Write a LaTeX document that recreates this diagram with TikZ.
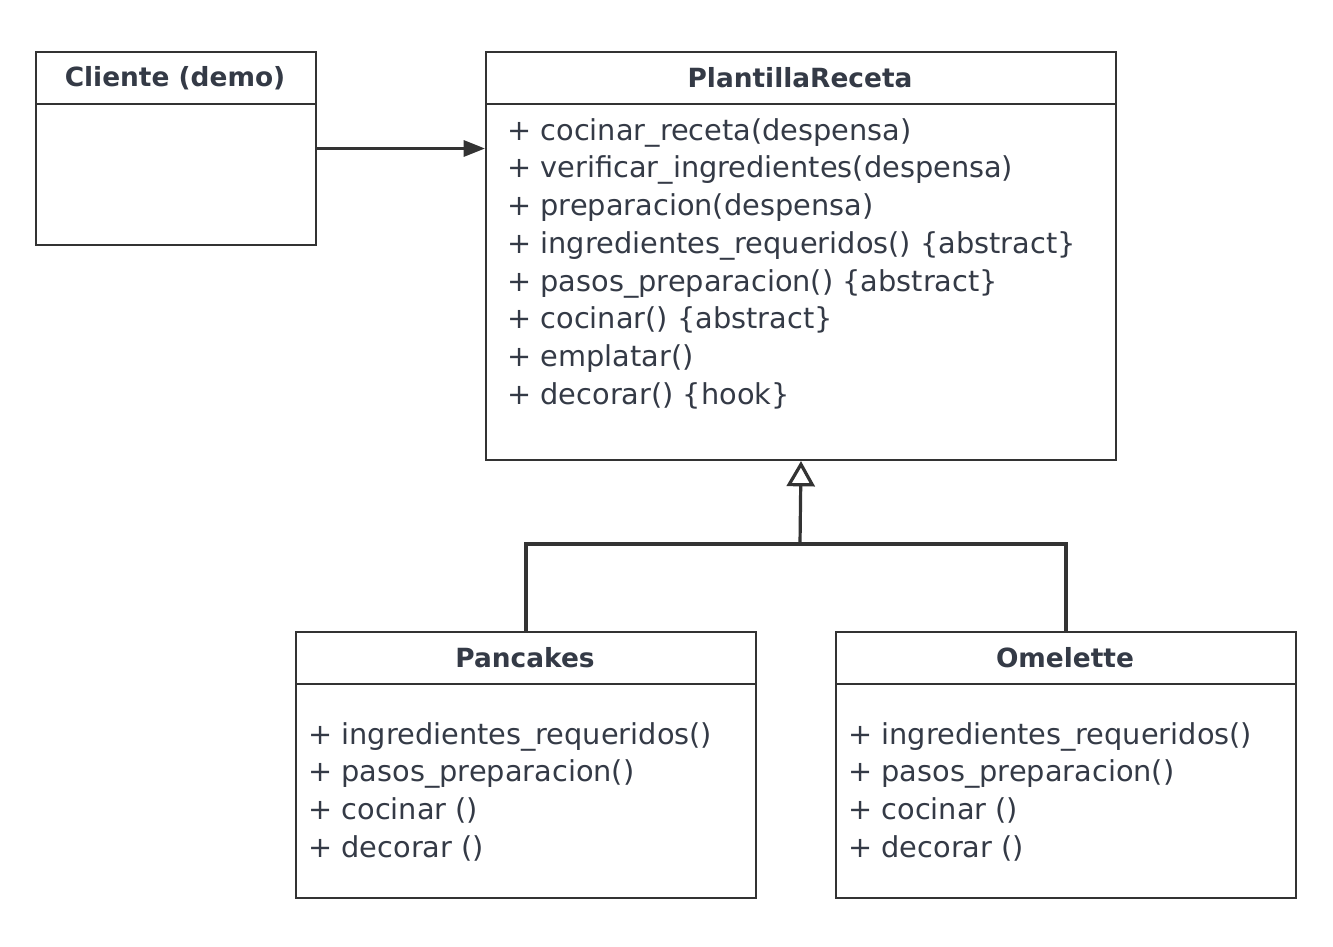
\documentclass[tikz,border=0pt]{standalone}
\usepackage{fontspec}
\setmainfont{DejaVu Sans}
\usetikzlibrary{arrows.meta}
\usetikzlibrary{positioning}
\definecolor{ink}{HTML}{343A46}
\definecolor{edge}{HTML}{333333}
\tikzset{
  classbox/.style={draw=edge, line width=1.5pt, anchor=north west, inner sep=0pt},
  title/.style={text=ink, font=\bfseries\fontsize{19.8}{24}\selectfont},
  members/.style={text=ink, anchor=north west, inner sep=0pt, align=left,
    font=\fontsize{21.6}{28.3}\selectfont},
  link/.style={draw=edge, line width=2.4pt}
}

\begin{document}
\begin{tikzpicture}[x=0.75pt, y=-0.75pt, >=Stealth]
\useasboundingbox (0,0) rectangle (1333,946);

% Class boxes
\node (cliente) [classbox, minimum width=210pt, minimum height=144.75pt] at (35,51) {};
\node (plantilla) [classbox, minimum width=472.5pt, minimum height=306pt] at (485,51) {};
\node (pancakes) [classbox, minimum width=345pt, minimum height=199.5pt] at (295,631) {};
\node (omelette) [classbox, minimum width=345pt, minimum height=199.5pt] at (835,631) {};
% Header lines
\draw [draw=edge, line width=1.5pt] (35,104) -- (315,104);
\draw [draw=edge, line width=1.5pt] (485,104) -- (1115,104);
\draw [draw=edge, line width=1.5pt] (295,684) -- (755,684);
\draw [draw=edge, line width=1.5pt] (835,684) -- (1295,684);
% Titles
\node (cliente title) [title] at (175,78) {Cliente (demo)};
\node (plantilla title) [title] at (800,78) {PlantillaReceta};
\node (pancakes title) [title] at (525,658) {Pancakes};
\node (omelette title) [title] at (1065,658) {Omelette};
% Members
\node (plantilla ops) [members] at (507,118) {%
+ cocinar\_receta(despensa)\\
+ verificar\_ingredientes(despensa)\\
+ preparacion(despensa)\\
+ ingredientes\_requeridos() \{abstract\}\\
+ pasos\_preparacion() \{abstract\}\\
+ cocinar() \{abstract\}\\
+ emplatar()\\
+ decorar() \{hook\}};
\node (pancakes ops) [members] at (308,722) {%
+ ingredientes\_requeridos()\\
+ pasos\_preparacion()\\
+ cocinar ()\\
+ decorar ()};
\node (omelette ops) [members] at (848,722) {%
+ ingredientes\_requeridos()\\
+ pasos\_preparacion()\\
+ cocinar ()\\
+ decorar ()};

% Edges
\draw [link, -{Triangle[length=16pt, width=12pt]}] (cliente.east) -- (cliente.east -| plantilla.west);
\coordinate (join) at (800,544);
\draw [link, -{Triangle[open, length=19pt, width=21pt, fill=white]}] (join) -- (plantilla.south);
\draw [link] (pancakes.north) |- (join);
\draw [link] (omelette.north) |- (join);

\end{tikzpicture}
\end{document}
